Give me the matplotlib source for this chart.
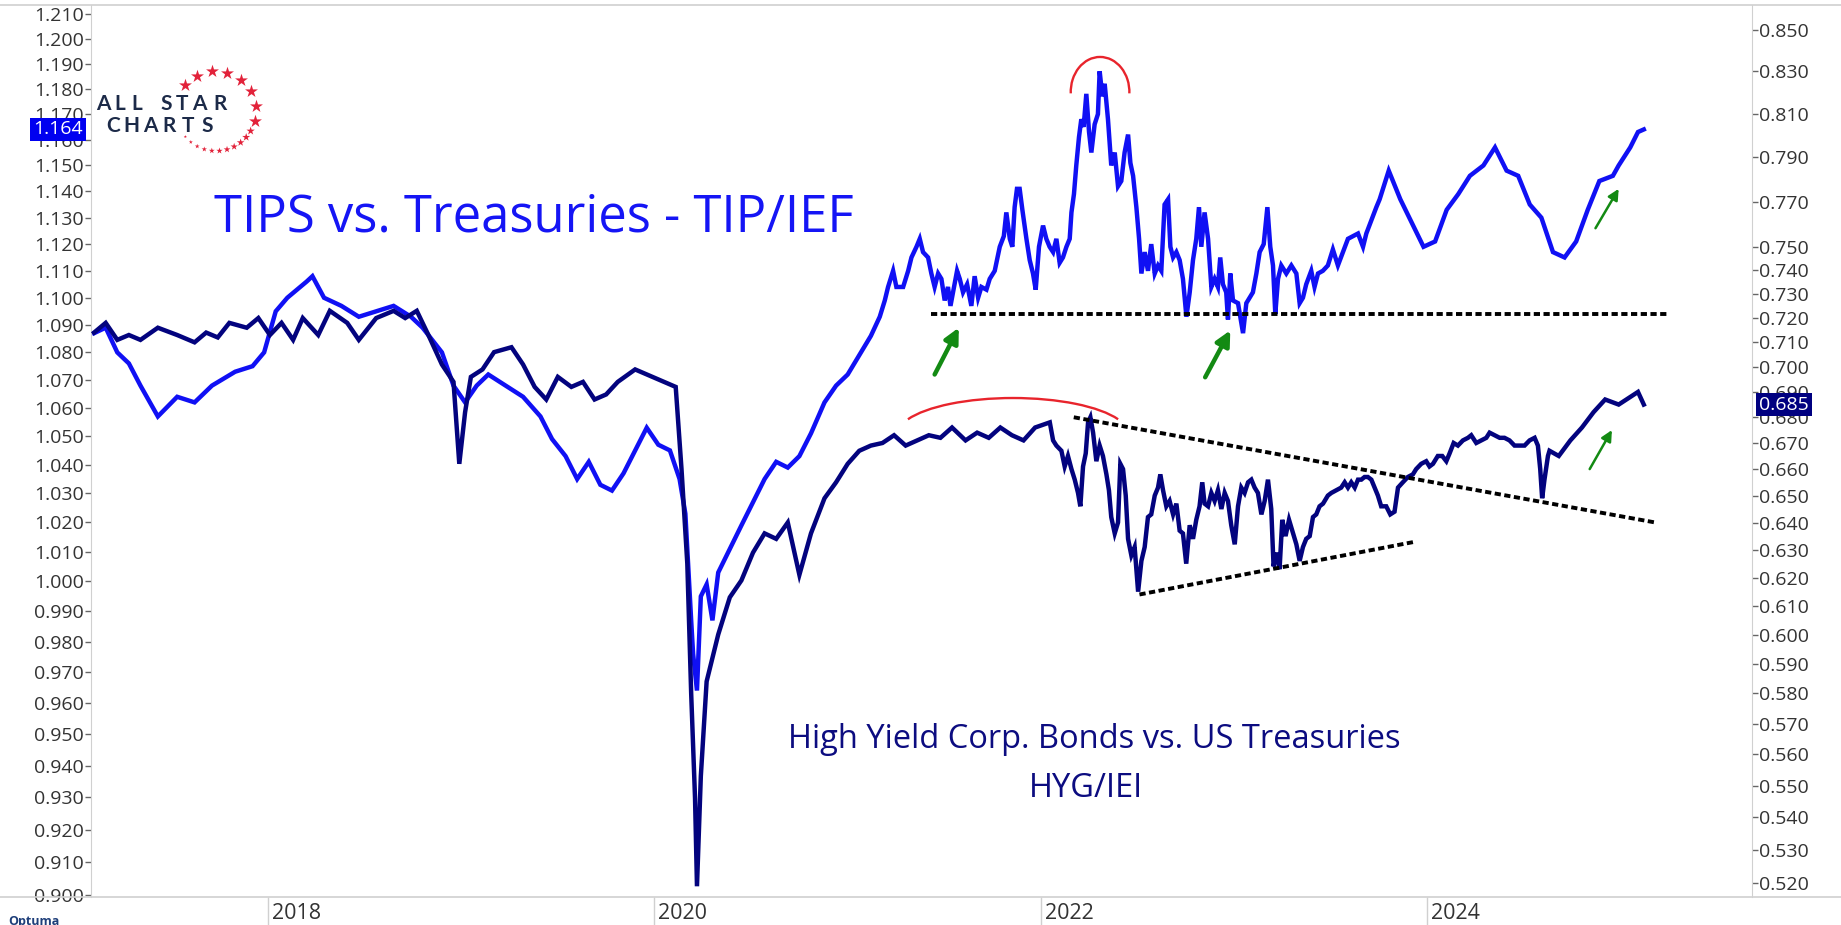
import numpy as np
import matplotlib
matplotlib.use('Agg')
import matplotlib.pyplot as plt
from matplotlib.patches import Arc
from matplotlib.ticker import FixedLocator, FuncFormatter, NullLocator
from matplotlib.transforms import ScaledTranslation

plt.rcParams['font.family'] = ['Open Sans', 'DejaVu Sans']

# TIP/IEF ratio (left axis): (decimal year, ratio)
tip_points = [
    (2017.10, 1.087), (2017.16, 1.089), (2017.22, 1.080), (2017.28, 1.076), (2017.34, 1.068),
    (2017.43, 1.057), (2017.53, 1.064), (2017.62, 1.062), (2017.71, 1.068), (2017.83, 1.073),
    (2017.92, 1.075), (2017.98, 1.080), (2018.04, 1.095), (2018.10, 1.100), (2018.20, 1.106),
    (2018.23, 1.108), (2018.29, 1.100), (2018.38, 1.097), (2018.47, 1.093), (2018.56, 1.095),
    (2018.65, 1.097), (2018.74, 1.093), (2018.80, 1.089), (2018.90, 1.080), (2018.96, 1.068),
    (2019.02, 1.062), (2019.08, 1.068), (2019.14, 1.072), (2019.23, 1.068), (2019.32, 1.064),
    (2019.41, 1.057), (2019.47, 1.049), (2019.54, 1.043), (2019.60, 1.035), (2019.66, 1.041),
    (2019.72, 1.033), (2019.78, 1.031), (2019.84, 1.037), (2019.90, 1.045), (2019.96, 1.053),
    (2020.02, 1.047), (2020.08, 1.045), (2020.13, 1.035), (2020.16, 1.023), (2020.19, 0.987),
    (2020.20, 0.976), (2020.22, 0.964), (2020.24, 0.995), (2020.27, 0.999), (2020.30, 0.987),
    (2020.33, 1.003), (2020.39, 1.011), (2020.45, 1.019), (2020.51, 1.027), (2020.57, 1.035),
    (2020.63, 1.041), (2020.69, 1.039), (2020.75, 1.043), (2020.81, 1.051), (2020.88, 1.062),
    (2020.94, 1.068), (2021.00, 1.072), (2021.06, 1.079), (2021.12, 1.086),
    (2021.166, 1.093), (2021.192, 1.099), (2021.209, 1.104), (2021.235, 1.110), (2021.252, 1.104),
    (2021.287, 1.104), (2021.313, 1.110), (2021.330, 1.115), (2021.356, 1.119), (2021.373, 1.122),
    (2021.390, 1.117), (2021.416, 1.115), (2021.433, 1.109), (2021.450, 1.104), (2021.468, 1.109),
    (2021.485, 1.107), (2021.502, 1.099), (2021.519, 1.104), (2021.532, 1.097), (2021.545, 1.102),
    (2021.566, 1.110), (2021.580, 1.107), (2021.597, 1.102), (2021.618, 1.105), (2021.640, 1.097),
    (2021.657, 1.108), (2021.675, 1.100), (2021.692, 1.104), (2021.718, 1.103), (2021.735, 1.107),
    (2021.761, 1.110), (2021.787, 1.119), (2021.808, 1.123), (2021.821, 1.132), (2021.839, 1.122),
    (2021.852, 1.119), (2021.864, 1.134), (2021.876, 1.141), (2021.890, 1.141), (2021.904, 1.133),
    (2021.925, 1.122), (2021.942, 1.114), (2021.959, 1.109), (2021.973, 1.103), (2021.990, 1.119),
    (2022.011, 1.127), (2022.028, 1.122), (2022.045, 1.119), (2022.063, 1.117), (2022.080, 1.122),
    (2022.097, 1.113), (2022.114, 1.115), (2022.132, 1.119), (2022.149, 1.122), (2022.158, 1.132),
    (2022.171, 1.139), (2022.183, 1.150), (2022.197, 1.161), (2022.209, 1.168), (2022.221, 1.165),
    (2022.235, 1.178), (2022.249, 1.163), (2022.261, 1.155), (2022.278, 1.166), (2022.295, 1.170),
    (2022.304, 1.187), (2022.318, 1.177), (2022.330, 1.182), (2022.347, 1.168), (2022.364, 1.150),
    (2022.382, 1.155), (2022.399, 1.142), (2022.416, 1.144), (2022.433, 1.155), (2022.451, 1.162),
    (2022.463, 1.151), (2022.477, 1.146), (2022.494, 1.134), (2022.508, 1.122), (2022.520, 1.109),
    (2022.537, 1.117), (2022.554, 1.110), (2022.571, 1.120), (2022.589, 1.109), (2022.606, 1.112),
    (2022.623, 1.110), (2022.640, 1.135), (2022.658, 1.137), (2022.670, 1.119), (2022.684, 1.115),
    (2022.701, 1.117), (2022.718, 1.114), (2022.735, 1.107), (2022.753, 1.093), (2022.770, 1.102),
    (2022.787, 1.114), (2022.804, 1.122), (2022.818, 1.134), (2022.830, 1.119), (2022.847, 1.132),
    (2022.865, 1.122), (2022.882, 1.104), (2022.899, 1.107), (2022.916, 1.104), (2022.928, 1.115),
    (2022.942, 1.105), (2022.959, 1.102), (2022.968, 1.092), (2022.980, 1.109), (2022.994, 1.099),
    (2023.020, 1.098), (2023.046, 1.087), (2023.063, 1.098), (2023.080, 1.100), (2023.097, 1.102),
    (2023.115, 1.109), (2023.132, 1.117), (2023.153, 1.120), (2023.172, 1.134), (2023.187, 1.119),
    (2023.201, 1.112), (2023.213, 1.094), (2023.227, 1.107), (2023.244, 1.112), (2023.270, 1.109),
    (2023.296, 1.112), (2023.322, 1.109), (2023.339, 1.098), (2023.356, 1.100), (2023.373, 1.105),
    (2023.399, 1.110), (2023.416, 1.104), (2023.434, 1.109), (2023.459, 1.110), (2023.485, 1.112),
    (2023.511, 1.118), (2023.537, 1.112), (2023.563, 1.117), (2023.589, 1.122), (2023.615, 1.123),
    (2023.641, 1.124), (2023.667, 1.119), (2023.684, 1.124), (2023.710, 1.129), (2023.736, 1.134),
    (2023.753, 1.137),
    (2023.80, 1.148), (2023.86, 1.137), (2023.92, 1.128), (2023.98, 1.119), (2024.04, 1.121),
    (2024.10, 1.133), (2024.16, 1.139), (2024.22, 1.146), (2024.29, 1.150), (2024.35, 1.157),
    (2024.41, 1.148), (2024.47, 1.146), (2024.53, 1.135), (2024.59, 1.130), (2024.65, 1.117),
    (2024.71, 1.115), (2024.77, 1.121), (2024.83, 1.133), (2024.89, 1.144), (2024.96, 1.146),
    (2024.99, 1.150), (2025.05, 1.157), (2025.09, 1.163), (2025.12, 1.164),
]

# HYG/IEI ratio (right axis): (decimal year, ratio)
hyg_points = [
    (2017.10, 0.714), (2017.16, 0.718), (2017.22, 0.711), (2017.28, 0.713), (2017.34, 0.711),
    (2017.43, 0.716), (2017.53, 0.713), (2017.62, 0.710), (2017.68, 0.714), (2017.74, 0.712),
    (2017.80, 0.718), (2017.89, 0.716), (2017.95, 0.720), (2018.01, 0.713), (2018.07, 0.718),
    (2018.13, 0.711), (2018.18, 0.720), (2018.26, 0.713), (2018.32, 0.723), (2018.41, 0.718),
    (2018.47, 0.711), (2018.56, 0.720), (2018.65, 0.723), (2018.71, 0.720), (2018.77, 0.723),
    (2018.83, 0.713), (2018.90, 0.701), (2018.96, 0.694), (2018.99, 0.662), (2019.02, 0.682),
    (2019.05, 0.696), (2019.11, 0.699), (2019.17, 0.706), (2019.26, 0.708), (2019.32, 0.701),
    (2019.38, 0.692), (2019.44, 0.687), (2019.50, 0.696), (2019.57, 0.692), (2019.63, 0.694),
    (2019.69, 0.687), (2019.75, 0.689), (2019.81, 0.694), (2019.90, 0.699), (2019.99, 0.696),
    (2020.05, 0.694), (2020.11, 0.692), (2020.14, 0.660), (2020.17, 0.625), (2020.19, 0.580),
    (2020.21, 0.546), (2020.22, 0.519), (2020.24, 0.553), (2020.27, 0.584), (2020.30, 0.592),
    (2020.33, 0.600), (2020.39, 0.613), (2020.45, 0.619), (2020.51, 0.629), (2020.57, 0.636),
    (2020.63, 0.634), (2020.69, 0.640), (2020.75, 0.621), (2020.81, 0.636), (2020.88, 0.649),
    (2020.94, 0.655), (2021.00, 0.662), (2021.06, 0.667), (2021.12, 0.669), (2021.18, 0.670),
    (2021.24, 0.673), (2021.30, 0.669), (2021.36, 0.671), (2021.42, 0.673), (2021.48, 0.672),
    (2021.54, 0.676), (2021.61, 0.671), (2021.67, 0.674), (2021.73, 0.672), (2021.79, 0.676),
    (2021.85, 0.673), (2021.91, 0.671), (2021.97, 0.676),
    (2022.046, 0.678), (2022.063, 0.671), (2022.080, 0.669), (2022.106, 0.667), (2022.123, 0.661),
    (2022.140, 0.665), (2022.158, 0.660), (2022.175, 0.656), (2022.192, 0.651), (2022.204, 0.646),
    (2022.218, 0.661), (2022.232, 0.666), (2022.244, 0.678), (2022.256, 0.680), (2022.270, 0.674),
    (2022.287, 0.663), (2022.304, 0.669), (2022.321, 0.665), (2022.339, 0.658), (2022.352, 0.652),
    (2022.364, 0.642), (2022.382, 0.636), (2022.399, 0.640), (2022.411, 0.662), (2022.425, 0.660),
    (2022.439, 0.650), (2022.451, 0.634), (2022.468, 0.628), (2022.485, 0.631), (2022.503, 0.615),
    (2022.520, 0.626), (2022.537, 0.631), (2022.554, 0.642), (2022.571, 0.643), (2022.589, 0.650),
    (2022.606, 0.653), (2022.618, 0.658), (2022.632, 0.652), (2022.649, 0.646), (2022.666, 0.648),
    (2022.684, 0.643), (2022.701, 0.647), (2022.718, 0.637), (2022.735, 0.636), (2022.752, 0.625),
    (2022.770, 0.639), (2022.787, 0.634), (2022.804, 0.641), (2022.821, 0.646), (2022.835, 0.655),
    (2022.847, 0.647), (2022.865, 0.646), (2022.882, 0.651), (2022.899, 0.648), (2022.916, 0.652),
    (2022.934, 0.645), (2022.951, 0.651), (2022.968, 0.648), (2022.985, 0.639), (2023.003, 0.632),
    (2023.020, 0.646), (2023.037, 0.653), (2023.054, 0.651), (2023.072, 0.655), (2023.089, 0.656),
    (2023.106, 0.653), (2023.123, 0.651), (2023.141, 0.643), (2023.158, 0.648), (2023.175, 0.656),
    (2023.192, 0.645), (2023.204, 0.624), (2023.218, 0.629), (2023.235, 0.623), (2023.249, 0.641),
    (2023.266, 0.635), (2023.284, 0.641), (2023.301, 0.637), (2023.322, 0.632), (2023.339, 0.626),
    (2023.356, 0.631), (2023.373, 0.634), (2023.391, 0.635), (2023.408, 0.642), (2023.425, 0.643),
    (2023.442, 0.646), (2023.460, 0.647), (2023.485, 0.650), (2023.503, 0.651), (2023.529, 0.652),
    (2023.554, 0.653), (2023.572, 0.655), (2023.589, 0.653), (2023.606, 0.655), (2023.624, 0.653),
    (2023.641, 0.656), (2023.658, 0.656), (2023.675, 0.657), (2023.692, 0.657), (2023.710, 0.656),
    (2023.727, 0.653), (2023.744, 0.650), (2023.761, 0.646), (2023.787, 0.646), (2023.808, 0.643),
    (2023.830, 0.644), (2023.848, 0.653), (2023.873, 0.655), (2023.899, 0.657), (2023.925, 0.658),
    (2023.942, 0.660), (2023.968, 0.662), (2023.994, 0.663), (2024.011, 0.661), (2024.029, 0.662),
    (2024.054, 0.665), (2024.077, 0.665), (2024.098, 0.663), (2024.115, 0.666), (2024.136, 0.670),
    (2024.158, 0.669), (2024.184, 0.671), (2024.210, 0.672), (2024.227, 0.673), (2024.253, 0.670),
    (2024.279, 0.671), (2024.305, 0.672), (2024.322, 0.674), (2024.348, 0.673), (2024.374, 0.672),
    (2024.399, 0.672), (2024.425, 0.671), (2024.451, 0.669), (2024.477, 0.669), (2024.503, 0.669),
    (2024.529, 0.671), (2024.555, 0.672), (2024.572, 0.669), (2024.584, 0.660), (2024.594, 0.649),
    (2024.606, 0.656), (2024.624, 0.665), (2024.632, 0.667),
    (2024.68, 0.665), (2024.74, 0.671), (2024.80, 0.676), (2024.86, 0.682), (2024.92, 0.687),
    (2024.99, 0.685), (2025.05, 0.688), (2025.09, 0.690), (2025.12, 0.685),
]

tip_last = 1.164
hyg_last = 0.685

left_ticks = [round(0.90 + 0.01 * i, 3) for i in range(32)]
right_ticks = [0.85, 0.83, 0.81, 0.79, 0.77] + [round(0.75 - 0.01 * i, 3) for i in range(24)]
year_ticks = [2018, 2020, 2022, 2024]
year_labels = ['2018', '2020', '2022', '2024']

# trendlines drawn on the chart (years, ratio values)
tip_support = ([2021.43, 2025.24], [1.094, 1.094])
hyg_resist = ([2022.17, 2025.18], [0.680, 0.640])
hyg_support = ([2022.51, 2023.94], [0.614, 0.633])
# green arrows (tail, head)
tip_arrows = [((2021.45, 1.072), (2021.575, 1.089), 'big'),
              ((2022.85, 1.071), (2022.98, 1.088), 'big'),
              ((2024.87, 1.126), (2024.99, 1.141), 'small')]
hyg_arrows = [((2024.84, 0.660), (2024.955, 0.675), 'small')]

BLUE = '#1010f4'
NAVY = '#03037e'
GREEN = '#138a13'
W, H = 1841, 925

tip_years, tip_values = zip(*tip_points)
hyg_years, hyg_values = zip(*hyg_points)

fig = plt.figure(figsize=(W / 100, H / 100), dpi=100)
ax = fig.add_axes([91 / W, 28 / H, 1661 / W, 892 / H])
ax2 = ax.twinx()

ax.plot(tip_years, tip_values, color=BLUE, lw=3.2, solid_joinstyle='miter')
ax2.plot(hyg_years, hyg_values, color=NAVY, lw=3.2, solid_joinstyle='miter')

ax.set_xlim(2017.084, 2025.68)
ax.set_yscale('log')
ax.set_ylim(0.8994, 1.2137)
ax2.set_yscale('log')
ax2.set_ylim(0.5158, 0.8623)

fmt = FuncFormatter(lambda v, p: '%.3f' % v)
for a, ticks in ((ax, left_ticks), (ax2, right_ticks)):
    a.yaxis.set_major_locator(FixedLocator(ticks))
    a.yaxis.set_minor_locator(NullLocator())
    a.yaxis.set_major_formatter(fmt)
    a.tick_params(axis='y', which='major', length=4, width=1, color='#666666',
                  labelsize=14, labelcolor='#333333', pad=1)
    for s in ('top', 'bottom'):
        a.spines[s].set_visible(False)
ax.spines['right'].set_visible(False)
ax2.spines['left'].set_visible(False)
ax.spines['left'].set_color('#d0d0d0')
ax2.spines['right'].set_color('#d0d0d0')

ax.set_xticks(year_ticks, year_labels)
ax.xaxis.set_minor_locator(NullLocator())
ax.tick_params(axis='x', length=20, width=1, color='#d0d0d0', labelsize=15.5,
               labelcolor='#333333', pad=-16)
for lbl in ax.get_xticklabels():
    lbl.set_ha('left')
    lbl.set_transform(lbl.get_transform() + ScaledTranslation(0.04, 0, fig.dpi_scale_trans))

# trendlines
dash = (0, (1.6, 0.9))
ax.plot(*tip_support, color='black', lw=2.8, ls=dash)
ax2.plot(*hyg_resist, color='black', lw=2.8, ls=dash)
ax2.plot(*hyg_support, color='black', lw=2.8, ls=dash)

# red arcs
ax.add_patch(Arc((0.6075, 0.9025), 0.0353, 0.0785, theta1=-5, theta2=185,
                 transform=ax.transAxes, color='#e8242c', lw=1.7, clip_on=False))
ax.add_patch(Arc((0.5551, 0.5186), 0.1391, 0.0816, theta1=15, theta2=165,
                 transform=ax.transAxes, color='#e8242c', lw=1.7, clip_on=False))

# green arrows
for a, arrows in ((ax, tip_arrows), (ax2, hyg_arrows)):
    for tail, head, kind in arrows:
        if kind == 'big':
            props = dict(arrowstyle='-|>', color=GREEN, lw=3.2, mutation_scale=22,
                         shrinkA=0, shrinkB=0)
        else:
            props = dict(arrowstyle='-|>', color=GREEN, lw=1.8, mutation_scale=16,
                         shrinkA=0, shrinkB=0)
        a.annotate('', xy=head, xytext=tail, arrowprops=props)

# texts
ax.text(0.074, 0.7466, 'TIPS vs. Treasuries - TIP/IEF', transform=ax.transAxes,
        fontsize=36.5, color='#1515f5', va='baseline', ha='left')
ax.text(0.4196, 0.167, 'High Yield Corp. Bonds vs. US Treasuries', transform=ax.transAxes,
        fontsize=23.5, color='#0c0c80', va='baseline', ha='left')
ax.text(0.5647, 0.1121, 'HYG/IEI', transform=ax.transAxes,
        fontsize=23.5, color='#0c0c80', va='baseline', ha='left')

# last value labels
ax.annotate('%.3f' % tip_last, xy=(0, tip_last), xycoords=('axes fraction', 'data'),
            xytext=(-6, 0), textcoords='offset points', ha='right', va='center',
            fontsize=14, color='white', annotation_clip=False, zorder=10,
            bbox=dict(boxstyle='square,pad=0.15', fc='#0000f0', ec='none'))
ax2.annotate('%.3f' % hyg_last, xy=(1, hyg_last), xycoords=('axes fraction', 'data'),
             xytext=(5, 0), textcoords='offset points', ha='left', va='center',
             fontsize=14, color='white', annotation_clip=False, zorder=10,
             bbox=dict(boxstyle='square,pad=0.15', fc='#000080', ec='none'))

# overlay in pixel coordinates: frame lines and logo
ov = fig.add_axes([0, 0, 1, 1], zorder=5)
ov.set_xlim(0, W)
ov.set_ylim(H, 0)
ov.axis('off')
ov.patch.set_alpha(0)
ov.plot([0, W], [5, 5], color='#d0d0d0', lw=1.2)
ov.plot([0, W], [897, 897], color='#d0d0d0', lw=1.2)

LOGO = '#1c2a48'
for x, ch in zip([103.5, 120, 137, 166, 182, 199.5, 220], 'ALLSTAR'):
    ov.text(x, 110, ch, fontsize=15, fontweight='bold', color=LOGO,
            family=['Lato', 'DejaVu Sans'], ha='center', va='baseline')
for i, ch in enumerate('CHARTS'):
    ov.text(113 + i * 18.8, 132, ch, fontsize=15, fontweight='bold', color=LOGO,
            family=['Lato', 'DejaVu Sans'], ha='center', va='baseline')
big = np.radians(np.linspace(140, -15, 8))
small = np.radians(np.linspace(-30, -140, 11))
ov.scatter(216 + 40 * np.cos(big), 111 - 40 * np.sin(big), marker='*', s=95,
           color='#e2223a', linewidths=0)
ov.scatter(216 + 40 * np.cos(small), 111 - 40 * np.sin(small), marker='*',
           s=np.linspace(40, 6, len(small)), color='#e2223a', linewidths=0)

ov.text(8, 921, 'Optuma', fontsize=9, fontweight='bold', color='#1f3f7a', va='center')

fig.savefig('out.png', dpi=100)
